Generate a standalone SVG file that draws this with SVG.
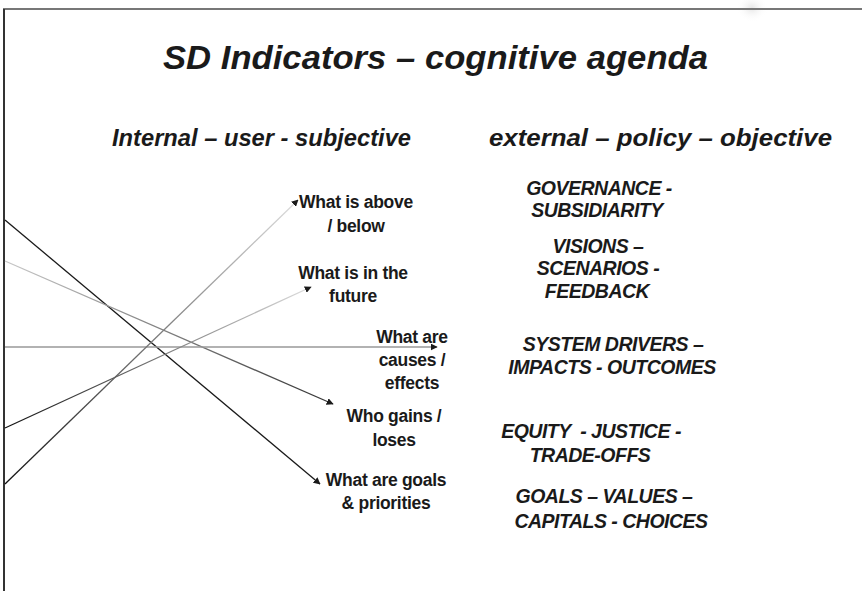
<svg xmlns="http://www.w3.org/2000/svg" width="862" height="591" viewBox="0 0 862 591">
<style>
text{font-family:"Liberation Sans",Arial,sans-serif;font-weight:bold;fill:#1a1a1a}
.t{font-size:33px;font-style:italic}
.h{font-size:23px;font-style:italic}
.q{font-size:17.5px;text-anchor:middle;letter-spacing:-0.3px}
.r{font-size:19.5px;font-style:italic;text-anchor:middle;letter-spacing:-0.5px}
.c{fill:none;stroke-width:1.3}
</style>
<defs>
<marker id="ah" viewBox="0 0 10 10" refX="9" refY="5" markerWidth="7" markerHeight="7" markerUnits="userSpaceOnUse" orient="auto">
<path d="M0,0 L10,5 L0,10 z" fill="#1a1a1a"/>
</marker>
<linearGradient id="gB" gradientUnits="userSpaceOnUse" x1="5" y1="261" x2="333" y2="404"><stop offset="0" stop-color="#c8c8c8"/><stop offset="1" stop-color="#333"/></linearGradient>
<linearGradient id="gD" gradientUnits="userSpaceOnUse" x1="5" y1="428" x2="311" y2="287"><stop offset="0" stop-color="#111"/><stop offset="1" stop-color="#ddd"/></linearGradient>
<linearGradient id="gE" gradientUnits="userSpaceOnUse" x1="5" y1="484" x2="298" y2="200"><stop offset="0" stop-color="#111"/><stop offset="1" stop-color="#ddd"/></linearGradient>
<radialGradient id="blob"><stop offset="0" stop-color="#e6e6e6"/><stop offset="1" stop-color="#fff" stop-opacity="0"/></radialGradient>
</defs>
<rect width="862" height="591" fill="#fff"/>
<ellipse cx="752" cy="8" rx="16" ry="14" fill="url(#blob)"/>
<g id="frame">
<line x1="3" y1="9" x2="862" y2="9" stroke="#777" stroke-width="2"/>
<line x1="4" y1="9" x2="4" y2="591" stroke="#333" stroke-width="2"/>
</g>
<g id="title"><text class="t" x="163" y="69" textLength="545" lengthAdjust="spacingAndGlyphs">SD Indicators – cognitive agenda</text></g>
<g id="heading-left"><text class="h" x="112" y="146" textLength="299" lengthAdjust="spacingAndGlyphs">Internal – user - subjective</text></g>
<g id="heading-right"><text class="h" x="489" y="146" textLength="343" lengthAdjust="spacingAndGlyphs">external – policy – objective</text></g>
<g id="connectors">
<line class="c" x1="5" y1="220" x2="320" y2="484" stroke="#1a1a1a" stroke-width="1.6" marker-end="url(#ah)"/>
<line class="c" x1="5" y1="261" x2="333" y2="404" stroke="url(#gB)" stroke-width="1" marker-end="url(#ah)"/>
<line class="c" x1="5" y1="347" x2="437" y2="347" stroke="#999" stroke-width="1" marker-end="url(#ah)"/>
<line class="c" x1="5" y1="428" x2="311" y2="287" stroke="url(#gD)" marker-end="url(#ah)"/>
<line class="c" x1="5" y1="484" x2="298" y2="200" stroke="url(#gE)" marker-end="url(#ah)"/>
</g>
<g id="q-above"><text class="q" x="356" y="208">What is above</text><text class="q" x="356" y="232">/ below</text></g>
<g id="q-future"><text class="q" x="353" y="279">What is in the</text><text class="q" x="353" y="302">future</text></g>
<g id="q-causes"><text class="q" x="412" y="343">What are</text><text class="q" x="412" y="366">causes /</text><text class="q" x="412" y="389">effects</text></g>
<g id="q-gains"><text class="q" x="394" y="422">Who gains /</text><text class="q" x="394" y="446">loses</text></g>
<g id="q-goals"><text class="q" x="386" y="486">What are goals</text><text class="q" x="386" y="509">&amp; priorities</text></g>
<g id="p-governance"><text class="r" x="599" y="195">GOVERNANCE -</text><text class="r" x="597" y="217">SUBSIDIARITY</text></g>
<g id="p-visions"><text class="r" x="598" y="253">VISIONS –</text><text class="r" x="598" y="275">SCENARIOS -</text><text class="r" x="597" y="298">FEEDBACK</text></g>
<g id="p-system"><text class="r" x="613" y="351">SYSTEM DRIVERS –</text><text class="r" x="612" y="374">IMPACTS - OUTCOMES</text></g>
<g id="p-equity"><text class="r" x="591" y="438" xml:space="preserve">EQUITY  - JUSTICE -</text><text class="r" x="590" y="462">TRADE-OFFS</text></g>
<g id="p-goals"><text class="r" x="604" y="503">GOALS – VALUES –</text><text class="r" x="611" y="528">CAPITALS - CHOICES</text></g>
</svg>
